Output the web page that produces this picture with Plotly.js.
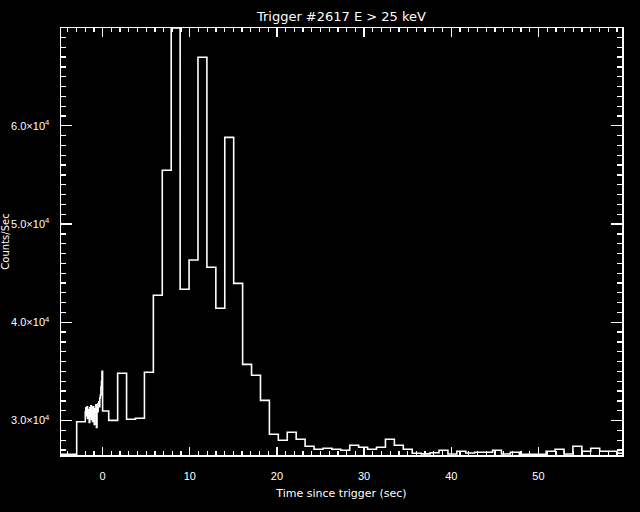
<!DOCTYPE html>
<html>
<head>
<meta charset="utf-8">
<script src="https://cdn.plot.ly/plotly-3.0.1.min.js"></script>
<style>
  html, body { margin: 0; padding: 0; background: #000; }
  #chart { width: 640px; height: 512px; }
</style>
</head>
<body>
<div id="chart"></div>
<script>
// Pre-trigger coarse bins (left edges, sec) and counts/sec
const preTimes = [-4.77, -2.97];
const preCounts = [26560, 29878];

// Fine-resolution bins (64 ms) just before the trigger (left edges, sec)
const fineTimes = [-1.984, -1.920, -1.856, -1.792, -1.728, -1.664, -1.600, -1.536, -1.472, -1.408,
                   -1.344, -1.280, -1.216, -1.152, -1.088, -1.024, -0.960, -0.896, -0.832, -0.768,
                   -0.704, -0.640, -0.576, -0.512, -0.448, -0.384, -0.320, -0.256, -0.192, -0.128, -0.064];
const fineCounts = [30900, 31300, 30500, 31400, 30200, 31100, 30700, 29800, 31300, 30400,
                    31500, 30100, 31000, 29900, 31400, 30600, 29600, 31200, 30800, 31600,
                    29300, 31300, 30900, 31700, 31900, 31400, 32300, 32600, 33400, 34000, 35000];

// Post-trigger coarse bins (left edges, sec)
const coarseTimes = [0.000, 0.704, 1.728, 2.752, 3.776, 4.800, 5.824, 6.848, 7.872, 8.896,
                     9.920, 10.944, 11.968, 12.992, 14.016, 15.040, 16.064, 17.088, 18.112, 19.136,
                     20.160, 21.184, 22.208, 23.232, 24.256, 25.280, 26.304, 27.328, 28.352, 29.376,
                     30.400, 31.424, 32.448, 33.472, 34.496, 35.520, 36.544, 37.568, 38.592, 39.616,
                     40.640, 41.664, 42.688, 43.712, 44.736, 45.760, 46.784, 47.808, 48.832, 49.856,
                     50.880, 51.904, 52.928, 53.952, 54.976, 56.000, 57.024, 58.048, 59.072];
const coarseCounts = [30967, 30020, 34805, 30122, 30224, 34907, 42746, 55471, 69960, 43357,
                      46340, 66975, 45596, 41422, 58830, 43967, 35721, 34602, 32056, 28595,
                      27984, 28799, 28086, 27374, 27068, 27170, 27068, 26966, 27475, 27272,
                      27068, 27272, 28086, 27475, 27068, 26661, 26600, 26722, 26966, 26590,
                      26865, 26692, 26763, 26763, 26966, 26590, 26763, 26560, 26560, 26560,
                      26865, 27068, 26590, 27374, 26865, 27170, 26865, 26865, 26661];
const endTime = 59.584;

// Axis tick labels
const yTickVals = [30000, 40000, 50000, 60000];
const yTickText = ['3.0×10<sup>4</sup>', '4.0×10<sup>4</sup>', '5.0×10<sup>4</sup>', '6.0×10<sup>4</sup>'];

const xs = preTimes.concat(fineTimes, coarseTimes, [endTime]);
const ys = preCounts.concat(fineCounts, coarseCounts, [coarseCounts[coarseCounts.length - 1]]);

const font = 'DejaVu Sans, Liberation Sans, sans-serif';
const tickFontFamily = 'Liberation Sans, Arial, sans-serif';

const trace = {
  x: xs, y: ys, type: 'scatter', mode: 'lines',
  line: { shape: 'hv', color: '#ffffff', width: 1.6 },
  hoverinfo: 'skip'
};

const axisCommon = {
  showgrid: false, zeroline: false, showline: true,
  linecolor: '#ffffff', linewidth: 1.5, mirror: 'ticks',
  ticks: 'inside', tickcolor: '#ffffff', tickwidth: 1.3,
  tickfont: { family: tickFontFamily, size: 11, color: '#ffffff' }
};

const layout = {
  width: 640, height: 512,
  paper_bgcolor: '#000000', plot_bgcolor: '#000000',
  margin: { l: 61, r: 18, t: 28, b: 57, pad: 0 },
  showlegend: false,
  title: {
    text: 'Trigger #2617 E &gt; 25 keV',
    font: { family: font, size: 13, color: '#ffffff' },
    x: 0.5335, xanchor: 'center', xref: 'container',
    y: 0.967, yanchor: 'middle', yref: 'container'
  },
  xaxis: Object.assign({}, axisCommon, {
    range: [-4.77, 59.584], tick0: 0, dtick: 10, ticklen: 8.5,
    minor: { dtick: 1, ticklen: 4, ticks: 'inside', tickcolor: '#ffffff', tickwidth: 1.3 },
    ticklabelstandoff: 10,
    title: { text: 'Time since trigger (sec)', font: { family: font, size: 11, color: '#ffffff' }, standoff: 8 }
  }),
  yaxis: Object.assign({}, axisCommon, {
    range: [26490, 69960], tickmode: 'array', tickvals: yTickVals, ticktext: yTickText, ticklen: 11,
    minor: { dtick: 1000, ticklen: 5, ticks: 'inside', tickcolor: '#ffffff', tickwidth: 1.3 },
    ticklabelstandoff: 8,
    title: { text: 'Counts/Sec', font: { family: font, size: 10, color: '#ffffff' }, standoff: 2 }
  })
};

Plotly.newPlot('chart', [trace], layout, { displayModeBar: false, staticPlot: true });
</script>
</body>
</html>
